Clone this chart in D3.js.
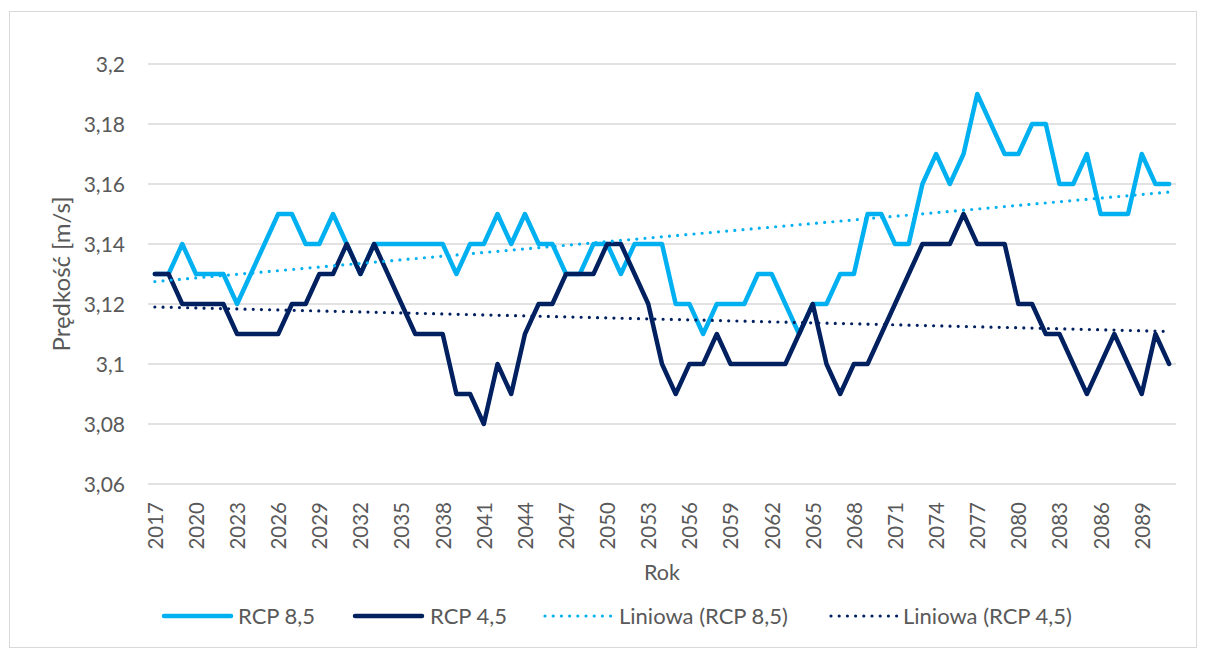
<!DOCTYPE html>
<html>
<head>
<meta charset="utf-8">
<script src="https://cdn.jsdelivr.net/npm/d3@7/dist/d3.min.js"></script>
<style>
  html, body { margin: 0; padding: 0; background: #ffffff; }
  svg { display: block; }
  text { font-family: Lato, "Open Sans", sans-serif; fill: #595959; }
</style>
</head>
<body>
<svg id="chart" width="1205" height="648"></svg>
<script>
// Years on the category axis
const years = d3.range(2017, 2092);

// Mean wind speed [m/s], scenario RCP 8.5
const rcp85 = [
  3.13, 3.13, 3.14, 3.13, 3.13, 3.13, 3.12, 3.13, 3.14, 3.15,
  3.15, 3.14, 3.14, 3.15, 3.14, 3.13, 3.14, 3.14, 3.14, 3.14,
  3.14, 3.14, 3.13, 3.14, 3.14, 3.15, 3.14, 3.15, 3.14, 3.14,
  3.13, 3.13, 3.14, 3.14, 3.13, 3.14, 3.14, 3.14, 3.12, 3.12,
  3.11, 3.12, 3.12, 3.12, 3.13, 3.13, 3.12, 3.11, 3.12, 3.12,
  3.13, 3.13, 3.15, 3.15, 3.14, 3.14, 3.16, 3.17, 3.16, 3.17,
  3.19, 3.18, 3.17, 3.17, 3.18, 3.18, 3.16, 3.16, 3.17, 3.15,
  3.15, 3.15, 3.17, 3.16, 3.16
];

// Mean wind speed [m/s], scenario RCP 4.5
const rcp45 = [
  3.13, 3.13, 3.12, 3.12, 3.12, 3.12, 3.11, 3.11, 3.11, 3.11,
  3.12, 3.12, 3.13, 3.13, 3.14, 3.13, 3.14, 3.13, 3.12, 3.11,
  3.11, 3.11, 3.09, 3.09, 3.08, 3.10, 3.09, 3.11, 3.12, 3.12,
  3.13, 3.13, 3.13, 3.14, 3.14, 3.13, 3.12, 3.10, 3.09, 3.10,
  3.10, 3.11, 3.10, 3.10, 3.10, 3.10, 3.10, 3.11, 3.12, 3.10,
  3.09, 3.10, 3.10, 3.11, 3.12, 3.13, 3.14, 3.14, 3.14, 3.15,
  3.14, 3.14, 3.14, 3.12, 3.12, 3.11, 3.11, 3.10, 3.09, 3.10,
  3.11, 3.10, 3.09, 3.11, 3.10
];

// Value axis ticks and their labels (decimal comma)
const yTicks = [3.06, 3.08, 3.1, 3.12, 3.14, 3.16, 3.18, 3.2];
const yTickLabels = ["3,06", "3,08", "3,1", "3,12", "3,14", "3,16", "3,18", "3,2"];

// Category labels shown every third year
const xTickYears = years.filter((d, i) => i % 3 === 0);

const seriesNames = ["RCP 8,5", "RCP 4,5", "Liniowa (RCP 8,5)", "Liniowa (RCP 4,5)"];
const colors = { light: "#00b0f0", dark: "#002060", grid: "#d9d9d9", text: "#595959" };

const svg = d3.select("#chart");

// Chart frame
svg.append("rect")
  .attr("x", 9.5).attr("y", 11.5)
  .attr("width", 1187).attr("height", 636)
  .attr("fill", "#fff").attr("stroke", colors.grid).attr("stroke-width", 1);

const plot = { left: 148, right: 1176, top: 64, bottom: 484 };

const x = d3.scalePoint().domain(years).range([plot.left, plot.right]).padding(0.5);
const y = d3.scaleLinear().domain([3.06, 3.2]).range([plot.bottom, plot.top]);

// Horizontal gridlines (bottom one doubles as the category axis line)
svg.append("g")
  .selectAll("line")
  .data(yTicks)
  .join("line")
  .attr("x1", plot.left).attr("x2", plot.right)
  .attr("y1", d => y(d)).attr("y2", d => y(d))
  .attr("stroke", colors.grid).attr("stroke-width", 1.5);

// Value axis labels
const yAxis = d3.axisLeft(y)
  .tickValues(yTicks)
  .tickFormat((d, i) => yTickLabels[i])
  .tickSize(0)
  .tickPadding(0);
const gy = svg.append("g").attr("transform", `translate(${plot.left - 23},0)`).call(yAxis);
gy.select(".domain").remove();
gy.selectAll("text")
  .attr("font-size", 21)
  .attr("font-family", "Lato, 'Open Sans', sans-serif")
  .attr("fill", colors.text)
  .attr("dy", "0.36em");

// Category axis labels, rotated
const xAxis = d3.axisBottom(x).tickValues(xTickYears).tickSize(0).tickPadding(0);
const gx = svg.append("g").attr("transform", `translate(0,${plot.bottom})`).call(xAxis);
gx.select(".domain").remove();
gx.selectAll("text")
  .attr("font-size", 20.5)
  .attr("font-family", "Lato, 'Open Sans', sans-serif")
  .attr("fill", colors.text)
  .attr("text-anchor", "end")
  .attr("transform", "translate(0,18) rotate(-90)")
  .attr("x", 0)
  .attr("y", 0)
  .attr("dy", "0.36em");

// Axis titles
svg.append("text")
  .attr("x", (plot.left + plot.right) / 2).attr("y", 580)
  .attr("text-anchor", "middle").attr("font-size", 21.5)
  .text("Rok");

svg.append("text")
  .attr("transform", `translate(70,${(plot.top + plot.bottom) / 2}) rotate(-90)`)
  .attr("text-anchor", "middle").attr("font-size", 24)
  .text("Prędkość [m/s]");

// Data lines
const line = d3.line()
  .x((d, i) => x(years[i]))
  .y(d => y(d))
  .curve(d3.curveLinear);

svg.append("path").datum(rcp85)
  .attr("d", line).attr("fill", "none")
  .attr("stroke", colors.light).attr("stroke-width", 4.5)
  .attr("stroke-linejoin", "round").attr("stroke-linecap", "round");

svg.append("path").datum(rcp45)
  .attr("d", line).attr("fill", "none")
  .attr("stroke", colors.dark).attr("stroke-width", 4.5)
  .attr("stroke-linejoin", "round").attr("stroke-linecap", "round");

// Least-squares linear trend over the category index
function linearTrend(values) {
  const n = values.length;
  const xs = d3.range(1, n + 1);
  const mx = d3.mean(xs), my = d3.mean(values);
  let sxy = 0, sxx = 0;
  for (let i = 0; i < n; i++) {
    sxy += (xs[i] - mx) * (values[i] - my);
    sxx += (xs[i] - mx) * (xs[i] - mx);
  }
  const b = sxy / sxx, a = my - b * mx;
  return [{ i: 0, v: a + b * xs[0] }, { i: n - 1, v: a + b * xs[n - 1] }];
}

const trendLine = d3.line().x(d => x(years[d.i])).y(d => y(d.v));

[[rcp85, colors.light], [rcp45, colors.dark]].forEach(([vals, c]) => {
  svg.append("path").datum(linearTrend(vals))
    .attr("d", trendLine).attr("fill", "none")
    .attr("stroke", c).attr("stroke-width", 3.2)
    .attr("stroke-linecap", "round")
    .attr("stroke-dasharray", "0 8.2");
});

// Legend
const legendY = 616;
const legendItems = [
  { name: seriesNames[0], color: colors.light, x0: 164, x1: 231, dotted: false, tx: 238 },
  { name: seriesNames[1], color: colors.dark, x0: 355, x1: 422, dotted: false, tx: 430 },
  { name: seriesNames[2], color: colors.light, x0: 545, x1: 612, dotted: true, tx: 619 },
  { name: seriesNames[3], color: colors.dark, x0: 831, x1: 898, dotted: true, tx: 903 }
];
const lg = svg.append("g");
legendItems.forEach(d => {
  lg.append("line")
    .attr("x1", d.x0).attr("x2", d.x1)
    .attr("y1", legendY).attr("y2", legendY)
    .attr("stroke", d.color)
    .attr("stroke-width", d.dotted ? 3.2 : 4.5)
    .attr("stroke-linecap", "round")
    .attr("stroke-dasharray", d.dotted ? "0 8.2" : null);
  lg.append("text")
    .attr("x", d.tx).attr("y", legendY)
    .attr("dy", "0.36em")
    .attr("font-size", 22)
    .text(d.name);
});
</script>
</body>
</html>
